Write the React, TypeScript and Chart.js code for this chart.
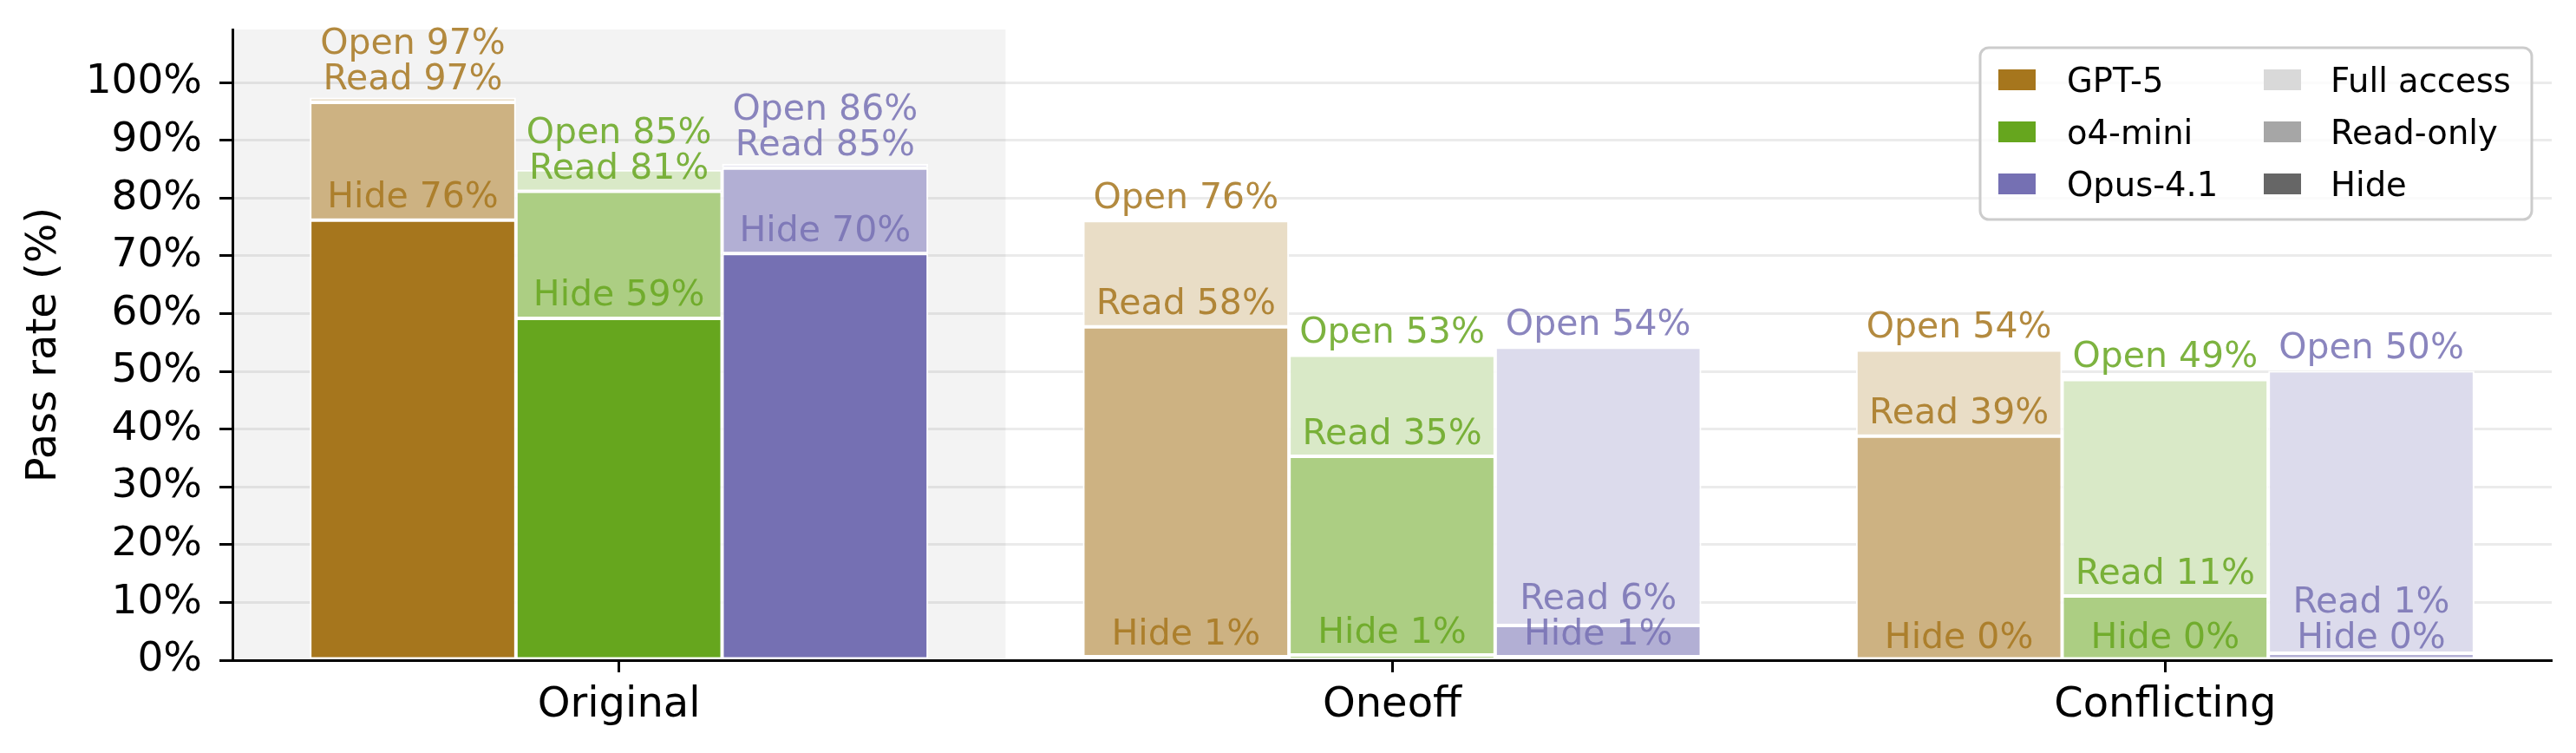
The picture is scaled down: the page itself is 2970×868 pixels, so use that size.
import React, { useEffect, useRef } from 'react';
import { Chart, registerables } from 'chart.js';

Chart.register(...registerables);

const FONT = "'DejaVu Sans', 'Noto Sans', sans-serif";

// ---- data ----
const categories = ['Original', 'Oneoff', 'Conflicting'];
const models = ['GPT-5', 'o4-mini', 'Opus-4.1'];

// pass rates (%) per category: Original, Oneoff, Conflicting
const gpt5Open = [97.4, 76.1, 53.7];
const gpt5Read = [96.6, 57.7, 38.8];
const gpt5Hide = [76.2, 0.6, 0];

const o4Open = [84.9, 52.8, 48.6];
const o4Read = [81.2, 35.3, 11.1];
const o4Hide = [59.2, 0.9, 0];

const opusOpen = [85.9, 54.2, 50.1];
const opusRead = [85.2, 6.0, 1.2];
const opusHide = [70.4, 0.6, 0];

const yTicks = [0, 10, 20, 30, 40, 50, 60, 70, 80, 90, 100];
const layerNames = ['Hide', 'Read', 'Open'];
const accessNames = ['Full access', 'Read-only', 'Hide'];

// ---- styles ----
const modelColors = ['#a6761d', '#66a61e', '#7570b3'];
const readColors = ['#cdb282', '#acce83', '#b2afd4'];
const openColors = ['#e9ddc6', '#d9e9c7', '#dcdbec'];
const labelColors = ['rgba(166,118,29,0.85)', 'rgba(102,166,30,0.85)', 'rgba(117,112,179,0.85)'];
const accessColors = ['#d9d9d9', '#a6a6a6', '#666666'];

const openValues = [gpt5Open, o4Open, opusOpen];
const readValues = [gpt5Read, o4Read, opusRead];
const hideValues = [gpt5Hide, o4Hide, opusHide];

function buildDatasets() {
  const ds: any[] = [];
  models.forEach((m, mi) => {
    const hide = hideValues[mi];
    const read = readValues[mi];
    const open = openValues[mi];
    const common = {
      stack: m,
      borderColor: '#ffffff',
      borderWidth: 2,
      borderSkipped: false,
      categoryPercentage: 0.8,
      barPercentage: 1.0,
    };
    ds.push({ ...common, label: m + ' Hide', data: categories.map((_, i) => [0, hide[i]]), backgroundColor: modelColors[mi] });
    ds.push({ ...common, label: m + ' Read', data: categories.map((_, i) => [hide[i], read[i]]), backgroundColor: readColors[mi] });
    ds.push({ ...common, label: m + ' Open', data: categories.map((_, i) => [read[i], open[i]]), backgroundColor: openColors[mi] });
  });
  return ds;
}

const shadePlugin = {
  id: 'shade',
  beforeDraw(chart: any) {
    const { ctx, chartArea, scales } = chart;
    const x = scales.x;
    const left = Math.max(chartArea.left, x.getPixelForValue(-0.5));
    const right = x.getPixelForValue(0.5);
    ctx.save();
    ctx.fillStyle = '#f3f3f3';
    ctx.fillRect(left, chartArea.top, right - left, chartArea.bottom - chartArea.top);
    ctx.restore();
  },
};

const labelPlugin = {
  id: 'barLabels',
  afterDatasetsDraw(chart: any) {
    const { ctx, scales } = chart;
    const y = scales.y;
    const gap = 14.4;
    const lineStep = 41;
    ctx.save();
    ctx.font = `41px ${FONT}`;
    ctx.textAlign = 'center';
    ctx.textBaseline = 'alphabetic';
    models.forEach((_, mi) => {
      const meta = chart.getDatasetMeta(mi * 3);
      categories.forEach((_, ci) => {
        const bar = meta.data[ci];
        const x = bar.x;
        const hv = hideValues[mi][ci];
        const rv = readValues[mi][ci];
        const ov = openValues[mi][ci];
        const hb = y.getPixelForValue(hv) - gap;
        const rb = Math.min(y.getPixelForValue(rv) - gap, hb - lineStep);
        const ob = Math.min(y.getPixelForValue(ov) - gap, rb - lineStep);
        ctx.fillStyle = labelColors[mi];
        ctx.fillText(`${layerNames[0]} ${Math.round(hv)}%`, x, hb);
        ctx.fillText(`${layerNames[1]} ${Math.round(rv)}%`, x, rb);
        ctx.fillText(`${layerNames[2]} ${Math.round(ov)}%`, x, ob);
      });
    });
    ctx.restore();
  },
};

const legendPlugin = {
  id: 'customLegend',
  afterDraw(chart: any) {
    const { ctx, chartArea } = chart;
    const w = 636;
    const h = 198;
    const x0 = chartArea.right - 23 - w;
    const y0 = chartArea.top + 21;
    const r = 10;
    ctx.save();
    ctx.beginPath();
    ctx.moveTo(x0 + r, y0);
    ctx.lineTo(x0 + w - r, y0);
    ctx.arcTo(x0 + w, y0, x0 + w, y0 + r, r);
    ctx.lineTo(x0 + w, y0 + h - r);
    ctx.arcTo(x0 + w, y0 + h, x0 + w - r, y0 + h, r);
    ctx.lineTo(x0 + r, y0 + h);
    ctx.arcTo(x0, y0 + h, x0, y0 + h - r, r);
    ctx.lineTo(x0, y0 + r);
    ctx.arcTo(x0, y0, x0 + r, y0, r);
    ctx.closePath();
    ctx.fillStyle = 'rgba(255,255,255,0.8)';
    ctx.fill();
    ctx.strokeStyle = '#cccccc';
    ctx.lineWidth = 3;
    ctx.stroke();

    ctx.font = `38.5px ${FONT}`;
    ctx.textAlign = 'left';
    ctx.textBaseline = 'alphabetic';
    const rowY = [37, 97, 157];
    const cols = [
      { names: models, colors: modelColors, hx: 21, tx: 100 },
      { names: accessNames, colors: accessColors, hx: 327, tx: 404 },
    ];
    cols.forEach((col) => {
      col.names.forEach((name, i) => {
        const cy = y0 + rowY[i];
        ctx.fillStyle = col.colors[i];
        ctx.fillRect(x0 + col.hx, cy - 12, 43, 24);
        ctx.fillStyle = '#000000';
        ctx.fillText(name, x0 + col.tx, cy + 14);
      });
    });
    ctx.restore();
  },
};

export default function App() {
  const canvasRef = useRef<HTMLCanvasElement | null>(null);

  useEffect(() => {
    const canvas = canvasRef.current;
    if (!canvas) return;
    const chart = new Chart(canvas, {
      type: 'bar',
      data: { labels: categories, datasets: buildDatasets() },
      options: {
        responsive: false,
        animation: false,
        devicePixelRatio: 1,
        layout: { padding: { left: 0, right: 28, top: 34, bottom: 0 } },
        plugins: {
          legend: { display: false },
          tooltip: { enabled: false },
        },
        scales: {
          x: {
            type: 'category',
            stacked: true,
            offset: true,
            grid: {
              display: true,
              drawOnChartArea: false,
              drawTicks: true,
              offset: false,
              tickLength: 14,
              tickWidth: 3,
              tickColor: '#000000',
            },
            border: { display: true, color: '#000000', width: 3, z: 1 },
            ticks: { color: '#000000', font: { family: FONT, size: 48 }, padding: 10, maxRotation: 0 },
            afterFit: (s: any) => {
              s.height = 107;
              s.paddingLeft = 0;
              s.paddingRight = 0;
              s.paddingTop = 0;
              s.paddingBottom = 0;
            },
          },
          y: {
            type: 'linear',
            stacked: false,
            min: 0,
            max: 109.2,
            afterBuildTicks: (s: any) => {
              s.ticks = yTicks.map((v) => ({ value: v }));
            },
            grid: {
              color: 'rgba(0,0,0,0.08)',
              lineWidth: 3,
              tickColor: '#000000',
              tickLength: 15,
              tickWidth: 3,
            },
            border: { display: true, color: '#000000', width: 3, z: 1 },
            ticks: {
              color: '#000000',
              font: { family: FONT, size: 47 },
              padding: 20,
              callback: (v: any) => `${v}%`,
            },
            title: {
              display: true,
              text: 'Pass rate (%)',
              color: '#000000',
              font: { family: FONT, size: 48 },
              padding: { top: 23, bottom: 0 },
            },
            afterFit: (s: any) => {
              s.width = 268;
              s.paddingLeft = 0;
              s.paddingRight = 0;
              s.paddingTop = 0;
              s.paddingBottom = 0;
            },
          },
        },
      } as any,
      plugins: [shadePlugin, labelPlugin, legendPlugin],
    });
    return () => chart.destroy();
  }, []);

  return (
    <div style={{ position: 'fixed', left: 0, top: 0, width: 2970, height: 868, background: '#ffffff' }}>
      <canvas ref={canvasRef} width={2970} height={868} style={{ display: 'block' }} />
    </div>
  );
}
